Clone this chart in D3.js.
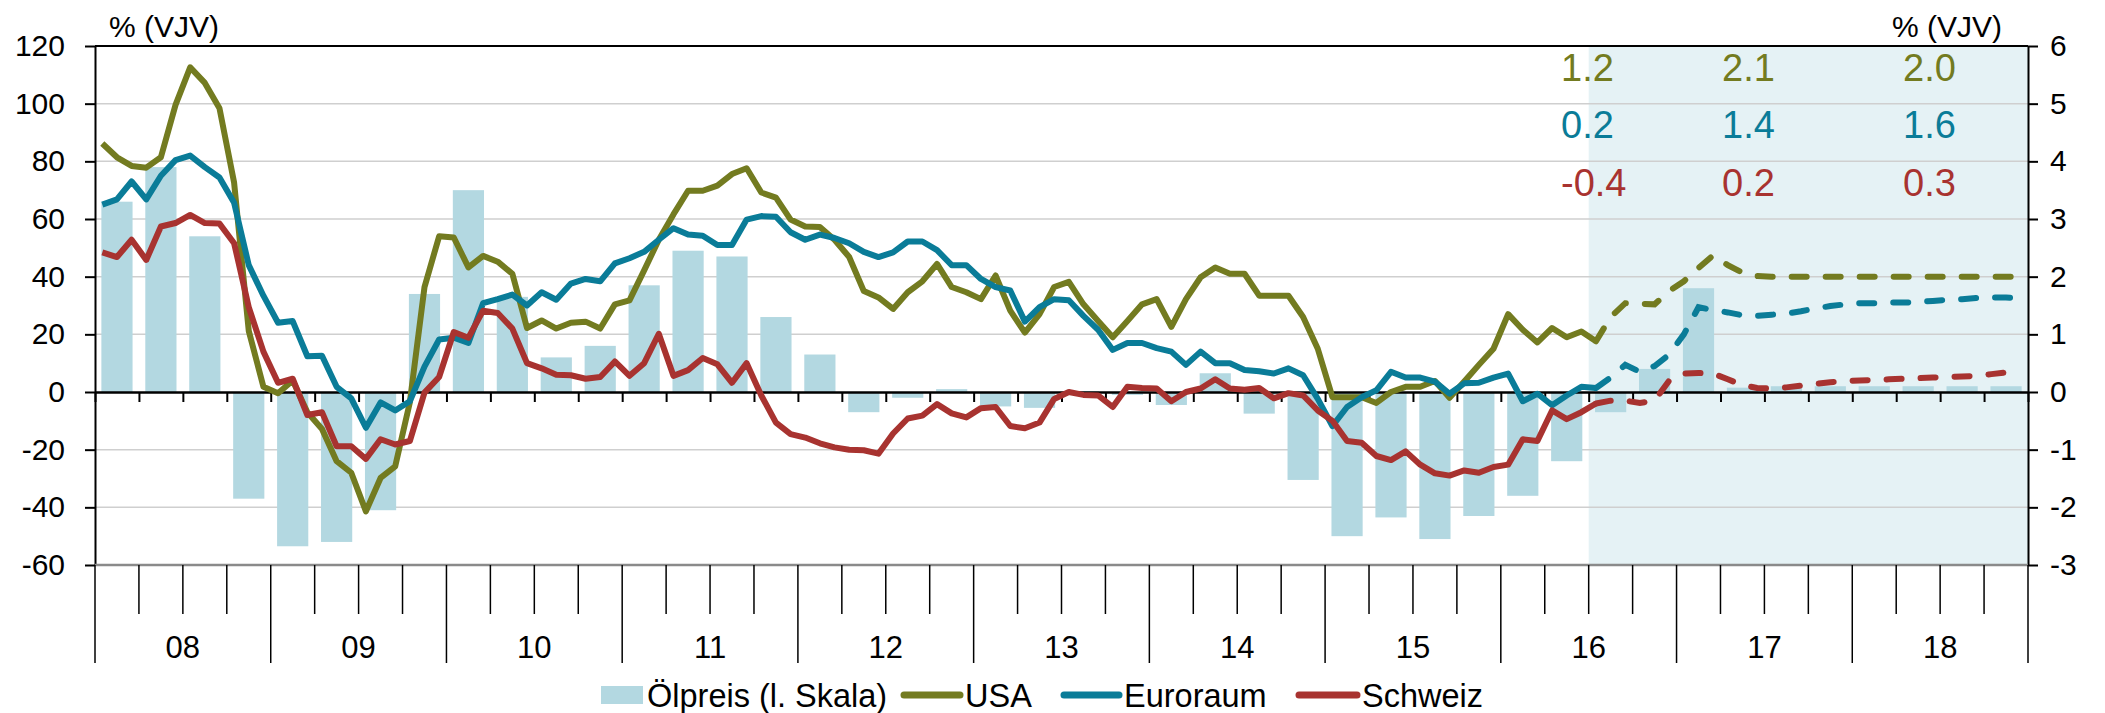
<!DOCTYPE html>
<html>
<head>
<meta charset="utf-8">
<script src="https://cdn.jsdelivr.net/npm/d3@7"></script>
<style>
  body { margin: 0; background: #fff; }
  text { font-family: "Liberation Sans", Arial, sans-serif; }
</style>
</head>
<body>
<div id="chart"></div>
<script>
// Data: monthly inflation (% YoY, right scale), Jan 2008 .. Jul 2016 actual
const years = ["08", "09", "10", "11", "12", "13", "14", "15", "16", "17", "18"];

const usa = [
  4.31, 4.07, 3.92, 3.89, 4.07, 4.98, 5.63, 5.36, 4.92, 3.63, 1.06, 0.09,
  -0.02, 0.20, -0.35, -0.64, -1.20, -1.40, -2.07, -1.49, -1.29, -0.18, 1.82, 2.70,
  2.68, 2.16, 2.36, 2.26, 2.05, 1.11, 1.24, 1.10, 1.20, 1.22, 1.10, 1.52,
  1.59, 2.11, 2.64, 3.08, 3.49, 3.49, 3.58, 3.78, 3.88, 3.46, 3.37, 2.99,
  2.87, 2.86, 2.64, 2.34, 1.75, 1.64, 1.44, 1.73, 1.92, 2.22, 1.82, 1.73,
  1.61, 2.02, 1.41, 1.03, 1.35, 1.82, 1.91, 1.52, 1.23, 0.95, 1.23, 1.52,
  1.61, 1.13, 1.61, 1.99, 2.16, 2.05, 2.05, 1.67, 1.67, 1.67, 1.30, 0.75,
  -0.09, -0.09, -0.09, -0.19, 0.00, 0.09, 0.09, 0.19, -0.10, 0.18, 0.47, 0.75,
  1.35, 1.08, 0.86, 1.11, 0.95, 1.05, 0.88
];
const euro = [
  3.25, 3.34, 3.65, 3.34, 3.75, 4.02, 4.10, 3.90, 3.72, 3.28, 2.20, 1.67,
  1.20, 1.23, 0.62, 0.63, 0.09, -0.11, -0.62, -0.18, -0.32, -0.16, 0.44, 0.91,
  0.94, 0.85, 1.54, 1.61, 1.69, 1.50, 1.73, 1.60, 1.88, 1.96, 1.92, 2.23,
  2.32, 2.43, 2.64, 2.84, 2.73, 2.71, 2.55, 2.55, 2.99, 3.05, 3.04, 2.77,
  2.64, 2.73, 2.67, 2.58, 2.43, 2.34, 2.42, 2.61, 2.61, 2.46, 2.20, 2.20,
  1.96, 1.82, 1.76, 1.22, 1.47, 1.61, 1.59, 1.32, 1.08, 0.73, 0.85, 0.85,
  0.76, 0.70, 0.47, 0.70, 0.50, 0.50, 0.38, 0.36, 0.32, 0.41, 0.29, -0.12,
  -0.59, -0.26, -0.09, 0.03, 0.35, 0.25, 0.25, 0.18, -0.03, 0.15, 0.16, 0.25,
  0.32, -0.16, -0.03, -0.23, -0.06, 0.09, 0.07
];
const swiss = [
  2.42, 2.34, 2.64, 2.29, 2.87, 2.93, 3.07, 2.93, 2.92, 2.58, 1.47, 0.70,
  0.16, 0.23, -0.40, -0.35, -0.94, -0.94, -1.16, -0.82, -0.91, -0.85, -0.01, 0.26,
  1.04, 0.94, 1.41, 1.37, 1.10, 0.50, 0.41, 0.30, 0.29, 0.23, 0.26, 0.53,
  0.28, 0.50, 1.01, 0.28, 0.38, 0.59, 0.48, 0.16, 0.50, -0.06, -0.53, -0.73,
  -0.79, -0.89, -0.96, -1.00, -1.01, -1.07, -0.72, -0.46, -0.41, -0.21, -0.37, -0.44,
  -0.28, -0.26, -0.59, -0.63, -0.53, -0.12, 0.00, -0.05, -0.06, -0.26, 0.09, 0.07,
  0.06, -0.16, 0.00, 0.06, 0.22, 0.06, 0.04, 0.07, -0.11, -0.02, -0.06, -0.32,
  -0.50, -0.85, -0.88, -1.11, -1.18, -1.03, -1.26, -1.41, -1.45, -1.36, -1.40, -1.30,
  -1.26, -0.82, -0.85, -0.32, -0.47, -0.35, -0.20
];

// Forecasts, Jul 2016 .. Dec 2018 (dashed)
const usaForecast = [
  0.88, 1.30, 1.54, 1.53, 1.52, 1.75, 1.92, 2.15, 2.37, 2.20, 2.07, 2.01,
  2.00, 2.00, 2.00, 2.00, 2.00, 2.00, 2.00, 2.00, 2.00, 2.00, 2.00, 2.00,
  2.00, 2.00, 2.00, 2.00, 2.00, 2.00
];
const euroForecast = [
  0.07, 0.25, 0.47, 0.35, 0.45, 0.65, 1.00, 1.47, 1.42, 1.38, 1.33, 1.32,
  1.34, 1.36, 1.40, 1.45, 1.49, 1.52, 1.54, 1.54, 1.55, 1.55, 1.56, 1.58,
  1.60, 1.61, 1.63, 1.64, 1.64, 1.62
];
const swissForecast = [
  -0.20, -0.15, -0.15, -0.19, -0.15, 0.20, 0.32, 0.33, 0.32, 0.22, 0.12, 0.07,
  0.06, 0.08, 0.11, 0.14, 0.17, 0.19, 0.20, 0.21, 0.22, 0.23, 0.24, 0.25,
  0.26, 0.27, 0.28, 0.31, 0.34, 0.36
];
const forecastStart = 102; // month index of Jul 2016

// Oil price, quarterly % YoY (left scale), Q1 2008 .. Q4 2018
const oilPrice = [
  66, 78, 54, -37,
  -53.5, -52, -41, 34,
  70, 33, 12, 16,
  37, 49, 47, 26,
  13, -7, -2, 1,
  -5, -5.5, 0.3, -1,
  -4.5, 6.5, -7.5, -30.5,
  -50, -43.5, -51, -43,
  -36, -24, -7, 8,
  36, 1.5, 2, 2,
  2, 2, 2, 2
];

// Annual averages printed in the forecast area (2016, 2017, 2018)
const usaAvg = [1.2, 2.1, 2.0];
const euroAvg = [0.2, 1.4, 1.6];
const swissAvg = [-0.4, 0.2, 0.3];

const colors = { usa: "#737b20", euro: "#0a7c98", swiss: "#a83330", oil: "#b3d8e1" };

// Layout
const width = 2105, height = 713;
const plotLeft = 95, plotRight = 2028, plotTop = 46, plotBottom = 565;

const svg = d3.select("#chart").append("svg")
    .attr("width", width)
    .attr("height", height);

const x = d3.scaleLinear().domain([0, years.length * 12]).range([plotLeft, plotRight]);
const xq = d3.scaleBand().domain(d3.range(oilPrice.length)).range([plotLeft, plotRight])
    .paddingInner(0.29).paddingOuter(0.145);
const yL = d3.scaleLinear().domain([-60, 120]).range([plotBottom, plotTop]);
const yR = d3.scaleLinear().domain([-3, 6]).range([plotBottom, plotTop]);

// Forecast shading
svg.append("rect")
    .attr("x", x(forecastStart))
    .attr("y", plotTop)
    .attr("width", plotRight - x(forecastStart))
    .attr("height", plotBottom - plotTop)
    .attr("fill", "#e5f2f5");

// Horizontal grid lines
svg.append("g")
  .selectAll("line")
  .data(d3.range(-40, 120, 20).filter(d => d !== 0))
  .join("line")
    .attr("x1", plotLeft).attr("x2", plotRight)
    .attr("y1", d => yL(d)).attr("y2", d => yL(d))
    .attr("stroke", "#cfcfcf")
    .attr("stroke-width", 1.5);

// Oil price bars
svg.append("g")
  .selectAll("rect")
  .data(oilPrice)
  .join("rect")
    .attr("x", (d, i) => xq(i))
    .attr("width", xq.bandwidth())
    .attr("y", d => yL(Math.max(0, d)))
    .attr("height", d => Math.abs(yL(d) - yL(0)))
    .attr("fill", colors.oil);

// Zero line with quarter ticks
const quarterTicks = d3.range(0, years.length * 12 + 1, 3);
svg.append("g")
    .attr("transform", `translate(0,${yL(0)})`)
    .call(d3.axisBottom(x).tickValues(quarterTicks).tickSize(10).tickSizeOuter(0).tickFormat(""))
    .call(g => g.select(".domain").attr("stroke", "#000").attr("stroke-width", 2.5))
    .call(g => g.selectAll(".tick line").attr("stroke", "#000").attr("stroke-width", 2));

// Lines
const line = offset => d3.line()
    .x((d, i) => x(offset + i + 0.5))
    .y(d => yR(d));

const series = [
  { key: "usa", actual: usa, forecast: usaForecast },
  { key: "euro", actual: euro, forecast: euroForecast },
  { key: "swiss", actual: swiss, forecast: swissForecast }
];

series.forEach(s => {
  svg.append("path")
      .attr("d", line(0)(s.actual))
      .attr("fill", "none")
      .attr("stroke", colors[s.key])
      .attr("stroke-width", 6)
      .attr("stroke-linejoin", "round");
  svg.append("path")
      .attr("d", line(forecastStart)(s.forecast))
      .attr("fill", "none")
      .attr("stroke", colors[s.key])
      .attr("stroke-width", 6)
      .attr("stroke-linecap", "round")
      .attr("stroke-dasharray", "15,19");
});

// Annual average labels
const avgX = [1561, 1722, 1903];
[[usaAvg, colors.usa, 5.4], [euroAvg, colors.euro, 4.4], [swissAvg, colors.swiss, 3.4]]
  .forEach(([vals, col, lvl]) => {
    svg.append("g")
      .selectAll("text")
      .data(vals)
      .join("text")
        .attr("x", (d, i) => avgX[i])
        .attr("y", yR(lvl))
        .attr("fill", col)
        .style("font-size", "38px")
        .text(d => d.toFixed(1));
  });

// Frame: top, left and right axes
svg.append("line")
    .attr("x1", plotLeft).attr("x2", plotRight).attr("y1", plotTop).attr("y2", plotTop)
    .attr("stroke", "#000").attr("stroke-width", 2);

const leftAxis = svg.append("g")
    .attr("transform", `translate(${plotLeft},0)`)
    .call(d3.axisLeft(yL).tickValues(d3.range(-60, 121, 20)).tickSize(10).tickSizeOuter(0)
        .tickPadding(20).tickFormat(d => String(d)));

const rightAxis = svg.append("g")
    .attr("transform", `translate(${plotRight},0)`)
    .call(d3.axisRight(yR).tickValues(d3.range(-3, 7, 1)).tickSize(10).tickSizeOuter(0)
        .tickPadding(12).tickFormat(d => String(d)));

[leftAxis, rightAxis].forEach(g => {
  g.select(".domain").attr("stroke", "#000").attr("stroke-width", 2);
  g.selectAll(".tick line").attr("stroke", "#000").attr("stroke-width", 2);
  g.selectAll(".tick text")
      .attr("fill", "#000")
      .style("font-size", "30px")
      .style("font-family", "'Liberation Sans', Arial, sans-serif");
});

// Bottom category axis: quarter ticks and longer year ticks
svg.append("line")
    .attr("x1", plotLeft).attr("x2", plotRight).attr("y1", plotBottom).attr("y2", plotBottom)
    .attr("stroke", "#8a8a8a").attr("stroke-width", 2.5);

svg.append("g")
  .selectAll("line")
  .data(quarterTicks)
  .join("line")
    .attr("x1", d => x(d)).attr("x2", d => x(d))
    .attr("y1", plotBottom)
    .attr("y2", d => d % 12 === 0 ? 663 : 614)
    .attr("stroke", "#000")
    .attr("stroke-width", 1.5);

svg.append("g")
  .selectAll("text")
  .data(years)
  .join("text")
    .attr("x", (d, i) => x(i * 12 + 6))
    .attr("y", 658)
    .attr("text-anchor", "middle")
    .style("font-size", "31px")
    .text(d => d);

// Unit labels
svg.append("text")
    .attr("x", 109).attr("y", 37)
    .style("font-size", "30px")
    .text("% (VJV)");
svg.append("text")
    .attr("x", 2002).attr("y", 37)
    .attr("text-anchor", "end")
    .style("font-size", "30px")
    .text("% (VJV)");

// Legend
const legend = svg.append("g").style("font-size", "32.5px");
legend.append("rect")
    .attr("x", 601).attr("y", 686).attr("width", 42).attr("height", 18)
    .attr("fill", colors.oil);
legend.append("text").attr("x", 647).attr("y", 707).text("Ölpreis (l. Skala)");

const legendLines = [
  { key: "usa", label: "USA", x1: 904, x2: 960 },
  { key: "euro", label: "Euroraum", x1: 1064, x2: 1119 },
  { key: "swiss", label: "Schweiz", x1: 1299, x2: 1357 }
];
legendLines.forEach(l => {
  legend.append("line")
      .attr("x1", l.x1).attr("x2", l.x2).attr("y1", 695).attr("y2", 695)
      .attr("stroke", colors[l.key])
      .attr("stroke-width", 7)
      .attr("stroke-linecap", "round");
  legend.append("text").attr("x", l.x2 + 5).attr("y", 707).text(l.label);
});
</script>
</body>
</html>
